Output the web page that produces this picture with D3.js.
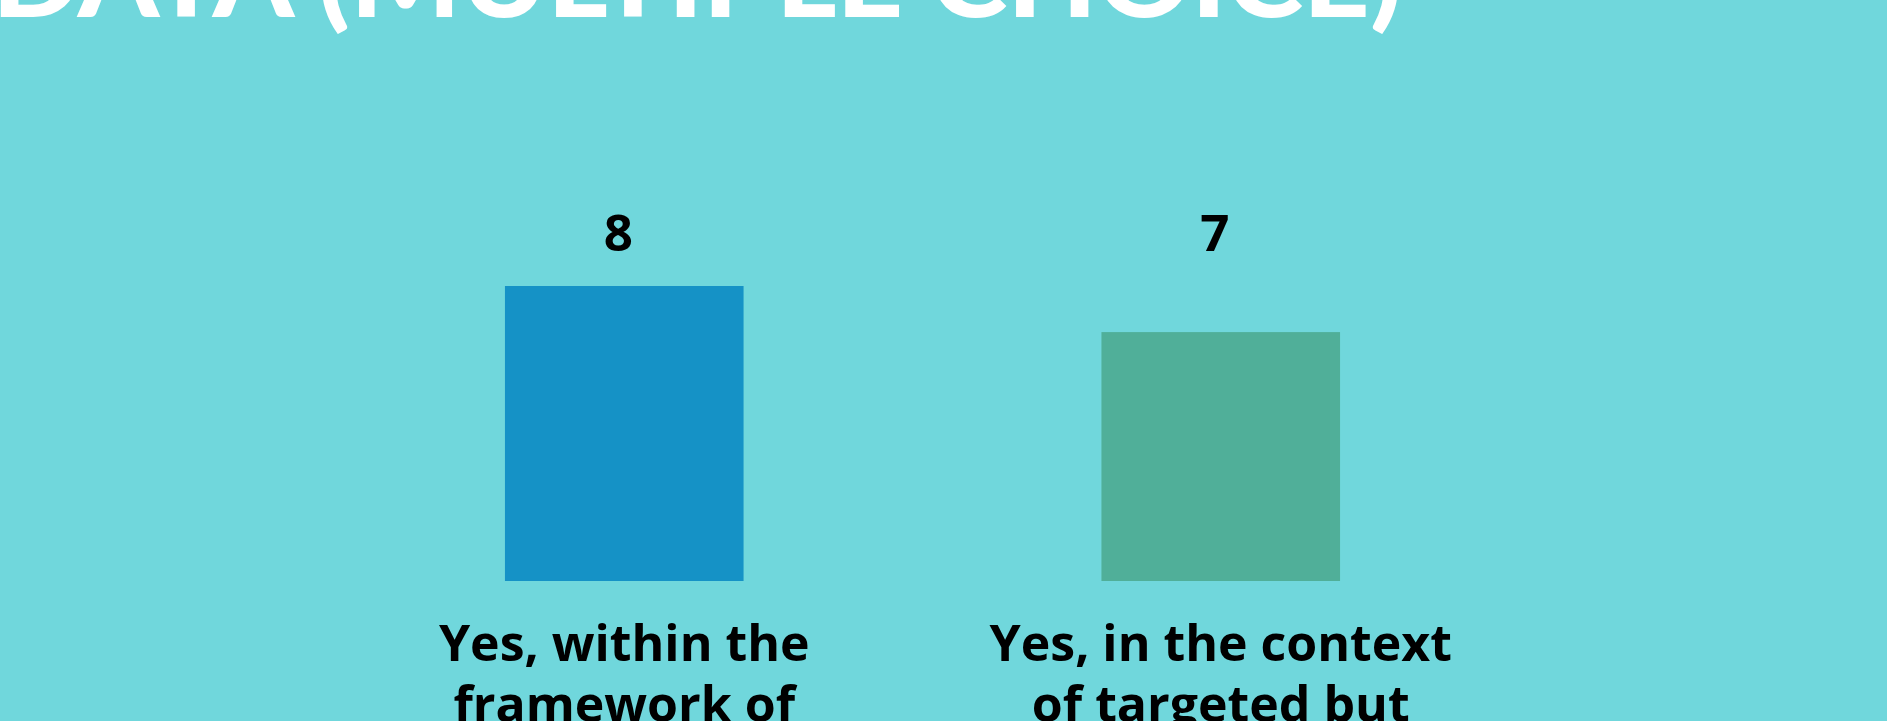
<!DOCTYPE html>
<html>
<head>
<meta charset="utf-8">
<script src="https://cdn.jsdelivr.net/npm/d3@7"></script>
<style>
  html, body { margin: 0; padding: 0; background: #70d7dc; overflow: hidden; }
  svg { display: block; }
</style>
</head>
<body>
<svg id="chart"></svg>
<script>
/* ── Data ─────────────────────────────────────────────── */
const titleText  = 'DATA (MULTIPLE CHOICE)';
const categories = ['within', 'targeted'];
const values     = [8, 7];
const catLines   = [
  ['Yes, within the', 'framework of'],
  ['Yes, in the context', 'of targeted but'],
];
const barColors  = ['#1592c6', '#50af99'];

/* ── Layout ───────────────────────────────────────────── */
const W = 1887, H = 721;
const baseY = 581, topY = 286;
const FONT = '"Open Sans", Lato, sans-serif';

const svg = d3.select('#chart').attr('width', W).attr('height', H);

svg.append('rect')
  .attr('width', W).attr('height', H)
  .attr('fill', '#70d7dc');

// Title (only its bottom edge shows in the frame)
svg.append('text')
  .attr('x', -8).attr('y', 17)
  .attr('textLength', 1410)
  .attr('lengthAdjust', 'spacingAndGlyphs')
  .style('font-family', 'Lato, sans-serif')
  .style('font-weight', 900)
  .style('font-size', '104px')
  .style('fill', '#ffffff')
  .text(titleText);

/* ── Scales ───────────────────────────────────────────── */
const x = d3.scaleBand()
  .domain(categories)
  .range([326, 1519])
  .paddingInner(0.6)
  .paddingOuter(0.3);

// the source bars aren't zero-based, so the floor sits a bit above 0
const y = d3.scaleLinear()
  .domain([1.6, d3.max(values)])
  .range([baseY, topY]);

const rows = categories.map((c, i) => ({ c, v: values[i], lines: catLines[i], color: barColors[i] }));

/* ── Bars ─────────────────────────────────────────────── */
svg.append('g').selectAll('rect')
  .data(rows).join('rect')
  .attr('x', d => x(d.c))
  .attr('y', d => y(d.v))
  .attr('width', x.bandwidth())
  .attr('height', d => baseY - y(d.v))
  .attr('fill', d => d.color);

/* ── Value labels (one row above the bars) ────────────── */
svg.append('g').selectAll('text')
  .data(rows).join('text')
  .attr('x', d => x(d.c) + x.bandwidth() / 2 - 6)
  .attr('y', 251)
  .attr('text-anchor', 'middle')
  .style('font-family', FONT)
  .style('font-weight', 700)
  .style('font-size', '51px')
  .style('fill', '#000')
  .text(d => d.v);

/* ── Category labels ──────────────────────────────────── */
const cat = svg.append('g').selectAll('text')
  .data(rows).join('text')
  .attr('x', d => x(d.c) + x.bandwidth() / 2)
  .attr('y', 661)
  .attr('text-anchor', 'middle')
  .style('font-family', FONT)
  .style('font-weight', 700)
  .style('font-size', '50px')
  .style('fill', '#000');

cat.selectAll('tspan')
  .data(d => d.lines).join('tspan')
  .attr('x', function () { return d3.select(this.parentNode).attr('x'); })
  .attr('dy', (d, i) => i === 0 ? 0 : 61)
  .text(d => d);
</script>
</body>
</html>
